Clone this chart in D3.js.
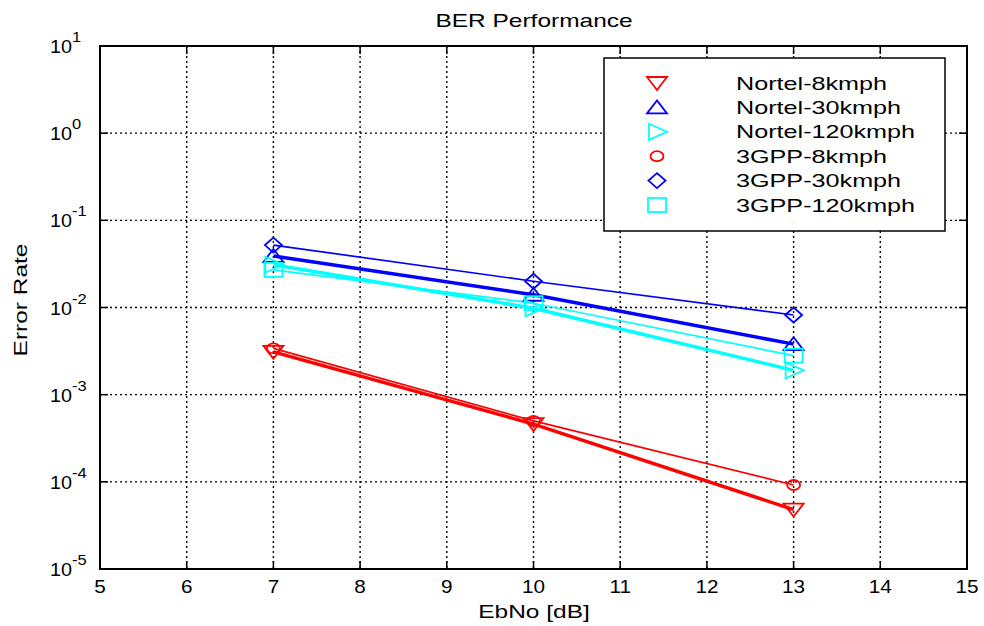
<!DOCTYPE html>
<html lang="en">
<head>
    <meta charset="UTF-8">
    <title>BER Performance</title>
    <style>
        body { margin: 0; background: #fff; }
        text { font-family: "Liberation Sans", Arial, sans-serif; fill: #000; }
    </style>
</head>
<body>
    <svg id="container" width="984" height="626"></svg>

<script src="https://cdn.jsdelivr.net/npm/d3@7"></script>
<script>
    // data
    let ebno = [7, 10, 13]
    let nortel8 = [3.1e-3, 4.6e-4, 4.8e-5]
    let nortel30 = [0.039, 0.014, 3.8e-3]
    let nortel120 = [0.031, 9.8e-3, 1.9e-3]
    let gpp8 = [3.4e-3, 5.0e-4, 9.2e-5]
    let gpp30 = [0.052, 0.020, 8.2e-3]
    let gpp120 = [0.027, 0.0112, 2.8e-3]

    let seriesNames = ["Nortel-8kmph", "Nortel-30kmph", "Nortel-120kmph",
                       "3GPP-8kmph", "3GPP-30kmph", "3GPP-120kmph"]
    let seriesValues = [nortel8, nortel30, nortel120, gpp8, gpp30, gpp120]
    let seriesColors = ["#ff0000", "#0000ff", "#00ffff", "#ff0000", "#0000ff", "#00ffff"]
    let seriesMarkers = ["triDown", "triUp", "triRight", "circle", "diamond", "square"]
    let seriesWidths = [3.5, 3.5, 3.5, 1.7, 1.7, 1.7]

    let xTicks = [5, 6, 7, 8, 9, 10, 11, 12, 13, 14, 15]
    let yExponents = [1, 0, -1, -2, -3, -4, -5]

    let svg = d3.select("#container")
    let plotLeft = 100, plotRight = 967, plotTop = 46, plotBottom = 569

    let x = d3.scaleLinear().domain([5, 15]).range([plotLeft, plotRight])
    let y = d3.scaleLog().domain([1e-5, 10]).range([plotBottom, plotTop])

    // stretched text like the original figure
    function label(parent, px, py, str, size, anchor, sx, rotate) {
        let g = parent.append("g")
            .attr("transform", `translate(${px},${py})` + (rotate ? ` rotate(${rotate})` : "") + ` scale(${sx},1)`)
        return g.append("text")
            .attr("font-size", size)
            .attr("text-anchor", anchor)
            .text(str)
    }

    // grid
    let grid = svg.append("g")
        .attr("stroke", "#000")
        .attr("stroke-width", 1.4)
        .attr("stroke-dasharray", "2,3")
    grid.selectAll(".gx").data(xTicks.slice(1, -1)).enter().append("line")
        .attr("x1", d => x(d)).attr("x2", d => x(d))
        .attr("y1", plotTop).attr("y2", plotBottom)
    grid.selectAll(".gy").data(yExponents.slice(1, -1)).enter().append("line")
        .attr("x1", plotLeft).attr("x2", plotRight)
        .attr("y1", d => y(Math.pow(10, d))).attr("y2", d => y(Math.pow(10, d)))

    // inward ticks on all sides
    let ticks = svg.append("g").attr("stroke", "#000").attr("stroke-width", 1.5)
    ticks.selectAll(".tb").data(xTicks).enter().append("line")
        .attr("x1", d => x(d)).attr("x2", d => x(d))
        .attr("y1", plotBottom).attr("y2", plotBottom - 8)
    ticks.selectAll(".tt").data(xTicks).enter().append("line")
        .attr("x1", d => x(d)).attr("x2", d => x(d))
        .attr("y1", plotTop).attr("y2", plotTop + 8)
    ticks.selectAll(".tl").data(yExponents).enter().append("line")
        .attr("x1", plotLeft).attr("x2", plotLeft + 8)
        .attr("y1", d => y(Math.pow(10, d))).attr("y2", d => y(Math.pow(10, d)))
    ticks.selectAll(".tr").data(yExponents).enter().append("line")
        .attr("x1", plotRight).attr("x2", plotRight - 8)
        .attr("y1", d => y(Math.pow(10, d))).attr("y2", d => y(Math.pow(10, d)))

    // lines
    let line = d3.line().x((d, i) => x(ebno[i])).y(d => y(d))
    let plot = svg.append("g")
    seriesValues.forEach((vals, k) => {
        plot.append("path")
            .attr("d", line(vals))
            .attr("fill", "none")
            .attr("stroke", seriesColors[k])
            .attr("stroke-width", seriesWidths[k])
            .attr("stroke-linejoin", "round")
    })

    // markers
    function marker(parent, kind, px, py, color) {
        let m
        if (kind == "triDown") {
            m = parent.append("path").attr("d", `M${px-10},${py-6} L${px+10},${py-6} L${px},${py+7} Z`)
        } else if (kind == "triUp") {
            m = parent.append("path").attr("d", `M${px-10},${py+6} L${px+10},${py+6} L${px},${py-7} Z`)
        } else if (kind == "triRight") {
            m = parent.append("path").attr("d", `M${px-8},${py-8} L${px-8},${py+8} L${px+10},${py} Z`)
        } else if (kind == "circle") {
            m = parent.append("ellipse").attr("cx", px).attr("cy", py).attr("rx", 6.5).attr("ry", 5)
        } else if (kind == "diamond") {
            m = parent.append("path").attr("d", `M${px},${py-7.5} L${px+8.5},${py} L${px},${py+7.5} L${px-8.5},${py} Z`)
        } else {
            m = parent.append("rect").attr("x", px - 9).attr("y", py - 7).attr("width", 18).attr("height", 14)
        }
        m.attr("fill", "none").attr("stroke", color).attr("stroke-width", 1.8)
    }
    seriesValues.forEach((vals, k) => {
        vals.forEach((v, i) => marker(plot, seriesMarkers[k], x(ebno[i]), y(v), seriesColors[k]))
    })

    // box
    svg.append("rect")
        .attr("x", plotLeft).attr("y", plotTop)
        .attr("width", plotRight - plotLeft).attr("height", plotBottom - plotTop)
        .attr("fill", "none").attr("stroke", "#000").attr("stroke-width", 2)

    // tick labels
    xTicks.forEach(t => label(svg, x(t), 593, String(t), 18, "middle", 1.15))
    yExponents.forEach(e => {
        let tx = label(svg, 50, y(Math.pow(10, e)) + 7, "10", 18, "start", 1.1)
        tx.append("tspan").attr("dy", -11).attr("font-size", 15).text(String(e))
    })

    // titles
    label(svg, 534, 27, "BER Performance", 18, "middle", 1.36)
    label(svg, 534, 618, "EbNo [dB]", 18, "middle", 1.36)
    label(svg, 27, 300, "Error Rate", 18, "middle", 1.36, -90)

    // legend
    let legend = svg.append("g")
    legend.append("rect")
        .attr("x", 604).attr("y", 58).attr("width", 341).attr("height", 173)
        .attr("fill", "#fff").attr("stroke", "#000").attr("stroke-width", 1.5)
    seriesNames.forEach((name, k) => {
        let cy = 83 + k * 24.4
        marker(legend, seriesMarkers[k], 657, cy, seriesColors[k])
        label(legend, 736, cy + 6.5, name, 18, "start", 1.4)
    })
</script>
</body>
</html>
